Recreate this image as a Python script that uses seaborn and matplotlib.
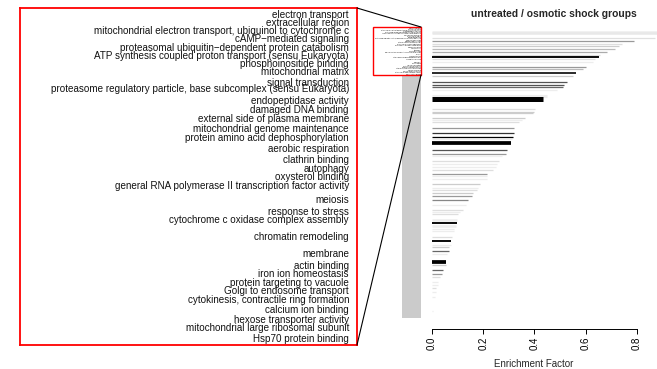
"""
Enrichment factor bars with zoomed GO term labels.
"""

import matplotlib
matplotlib.use("Agg")
import matplotlib.pyplot as plt
from matplotlib.patches import Rectangle, ConnectionPatch
import numpy as np
import seaborn as sns

# terms that are readable in the zoom box, with their row position
zoom_terms = [
    "electron transport", "extracellular region",
    "mitochondrial electron transport, ubiquinol to cytochrome c",
    "cAMP\u2212mediated signaling",
    "proteasomal ubiquitin\u2212dependent protein catabolism",
    "ATP synthesis coupled proton transport (sensu Eukaryota)",
    "phosphoinositide binding", "mitochondrial matrix", "signal transduction",
    "proteasome regulatory particle, base subcomplex (sensu Eukaryota)",
    "endopeptidase activity", "damaged DNA binding",
    "external side of plasma membrane", "mitochondrial genome maintenance",
    "protein amino acid dephosphorylation", "aerobic respiration",
    "clathrin binding", "autophagy", "oxysterol binding",
    "general RNA polymerase II transcription factor activity", "meiosis",
    "response to stress", "cytochrome c oxidase complex assembly",
    "chromatin remodeling", "membrane", "actin binding", "iron ion homeostasis",
    "protein targeting to vacuole", "Golgi to endosome transport",
    "cytokinesis, contractile ring formation", "calcium ion binding",
    "hexose transporter activity", "mitochondrial large ribosomal subunit",
    "Hsp70 protein binding",
]
zoom_rank = [1.0, 1.98, 2.88, 3.82, 4.85, 5.79, 6.76, 7.74, 9.04, 9.74,
             11.08, 12.18, 13.2, 14.41, 15.47, 16.76, 18.06, 19.12, 20.02,
             21.12, 22.76, 24.14, 25.12, 27.15, 29.15, 30.49, 31.51, 32.56,
             33.51, 34.53, 35.71, 36.88, 37.86, 39.04]

# visible bars: row rank, enrichment factor, darkness (0-1), bar weight
bar_rank = [4, 5, 9, 12, 14, 16, 18, 21, 23, 25, 27, 29, 33, 35, 38, 41, 46, 48,
            50, 52, 57, 60, 68, 70, 71, 75, 77, 79, 84, 88, 91, 93, 96, 102, 105,
            107, 111, 113, 116, 118, 122, 123, 126, 130, 133, 135, 137, 140, 143,
            147, 151, 153, 155, 160, 162, 165, 167, 169, 174, 177, 180, 182, 185,
            188, 194, 197, 201, 204, 207, 211, 213, 216, 219, 223, 235]
bar_value = [0.90, 0.89, 0.87, 0.788, 0.742, 0.729, 0.715, 0.684, 0.656, 0.651,
             0.637, 0.628, 0.60, 0.589, 0.562, 0.55, 0.527, 0.514, 0.51, 0.488,
             0.45, 0.434, 0.404, 0.399, 0.396, 0.365, 0.352, 0.339, 0.322, 0.32,
             0.317, 0.314, 0.307, 0.294, 0.29, 0.275, 0.262, 0.255, 0.249, 0.238,
             0.214, 0.214, 0.214, 0.187, 0.18, 0.175, 0.159, 0.155, 0.142, 0.133,
             0.12, 0.111, 0.103, 0.098, 0.096, 0.094, 0.087, 0.085, 0.078, 0.076,
             0.073, 0.068, 0.065, 0.06, 0.054, 0.054, 0.044, 0.04, 0.03, 0.025,
             0.022, 0.017, 0.015, 0.012, 0.005]
bar_dark = [0.07, 0.09, 0.12, 0.4, 0.13, 0.2, 0.27, 0.33, 0.13, 1.0,
            0.12, 0.07, 0.4, 0.27, 1.0, 0.2, 0.67, 0.67, 0.6, 0.07,
            0.07, 1.0, 0.13, 0.2, 0.2, 0.2, 0.07, 0.13, 0.4, 0.8,
            1.0, 0.07, 1.0, 0.67, 0.4, 0.06, 0.13, 0.07, 0.07, 0.13,
            0.4, 0.07, 0.07, 0.2, 0.07, 0.13, 0.2, 0.4, 0.47, 0.07,
            0.13, 0.07, 0.13, 0.07, 1.0, 0.07, 0.07, 0.07, 0.13, 1.0,
            0.07, 0.2, 0.6, 0.07, 1.0, 0.2, 0.6, 0.4, 0.13, 0.07,
            0.07, 0.13, 0.07, 0.07, 0.07]
bar_weight = [2, 2, 1, 1, 1, 1, 1, 1, 1, 1.5,
              1, 1, 1, 1, 1.3, 1, 1, 1, 1, 1,
              2.5, 4, 1, 1, 1, 1, 1, 1, 1, 1,
              1, 1, 3, 1, 1, 1, 1, 1, 1, 1,
              1, 1, 1, 1, 1, 1, 1, 1, 1, 1,
              1, 1, 1, 2, 1.5, 2, 1, 1, 1, 1.5,
              1, 1, 1, 1, 3, 1, 1, 1, 1, 1,
              1, 1, 1, 1, 1]

x_ticks = [0.0, 0.2, 0.4, 0.6, 0.8]

sns.set_theme(style="white")
plt.rcParams["font.family"] = ["Liberation Sans", "DejaVu Sans"]

W, H = 657, 369
fig = plt.figure(figsize=(W / 100, H / 100), dpi=100)


def box(x0, y0, x1, y1):
    # pixel box -> figure fraction
    return [x0 / W, 1 - y1 / H, (x1 - x0) / W, (y1 - y0) / H]


# row r sits at pixel y = 26.8 + 1.21 r
row_top = (20 - 26.8) / 1.21
row_bot = (329 - 26.8) / 1.21
zoom_r0, zoom_r1 = 0.18, 39.8

# bars
ax = fig.add_axes(box(432, 20, 657, 329))
ax.set_facecolor("none")
colors = [str(1 - d) for d in bar_dark]
ax.hlines(bar_rank, 0, bar_value, colors=colors,
          linewidths=np.array(bar_weight) * 0.9)
ax.set_xlim(0, 225 / 256.1)
ax.set_ylim(row_bot, row_top)
ax.set_yticks([])
ax.set_xticks(x_ticks)
ax.set_xticklabels([f"{t:.1f}" for t in x_ticks], rotation=90, fontsize=7)
ax.tick_params(axis="x", direction="out", length=3.5, width=0.7, pad=2,
               bottom=True, colors="black")
for s in ["top", "right", "left"]:
    ax.spines[s].set_visible(False)
ax.spines["bottom"].set_bounds(0, 0.8)
ax.spines["bottom"].set_color("black")
ax.spines["bottom"].set_linewidth(0.7)

# tiny label column
ax_lab = fig.add_axes(box(360, 20, 430, 329))
ax_lab.set_axis_off()
ax_lab.set_xlim(360, 430)
ax_lab.set_ylim(row_bot, row_top)
for name, r in zip(zoom_terms, zoom_rank):
    ax_lab.text(421, r, name, ha="right", va="center", fontsize=1.05,
                color="black")
ax_lab.add_patch(Rectangle((402, 40.5), 19, 200, color="#cbcbcb", lw=0))
ax_lab.add_patch(Rectangle((373, zoom_r0), 48, zoom_r1 - zoom_r0, fill=False,
                           edgecolor="red", lw=1.0, zorder=5))

# zoomed labels
ax_zoom = fig.add_axes(box(20, 8, 357, 345))
ax_zoom.set_xlim(0, 1)
ax_zoom.set_ylim(zoom_r1, zoom_r0)
ax_zoom.set_xticks([])
ax_zoom.set_yticks([])
ax_zoom.set_facecolor("none")
for s in ax_zoom.spines.values():
    s.set_edgecolor("red")
    s.set_linewidth(1.3)
for name, r in zip(zoom_terms, zoom_rank):
    ax_zoom.text(329 / 337, r, name, ha="right", va="center", fontsize=7.1,
                 color="#111111")

for ya, yb in [(1, zoom_r0), (0, zoom_r1)]:
    con = ConnectionPatch(xyA=(1, ya), coordsA=ax_zoom.transAxes,
                          xyB=(421, yb), coordsB=ax_lab.transData,
                          color="black", lw=0.8, zorder=10)
    fig.add_artist(con)

fig.text(554 / W, 1 - 14 / H, "untreated / osmotic shock groups",
         ha="center", va="center", fontsize=7.4, fontweight="bold")
fig.text(534 / W, 1 - 364 / H, "Enrichment Factor", ha="center",
         va="center", fontsize=7)

fig.savefig("out.png", dpi=100)
